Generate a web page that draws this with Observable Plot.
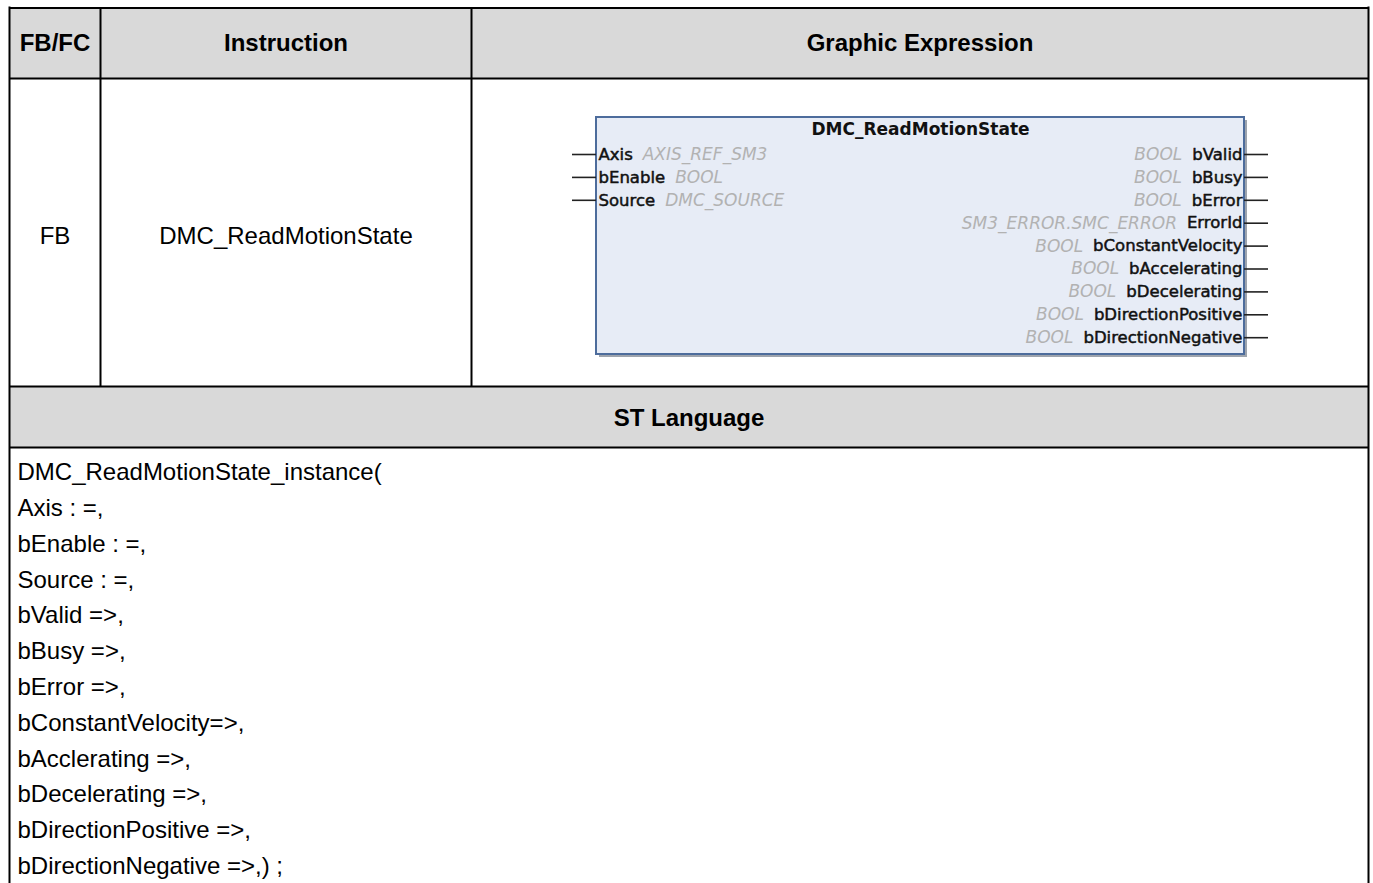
<!DOCTYPE html>
<html>
<head>
<meta charset="utf-8">
<script src="https://cdn.jsdelivr.net/npm/d3@7"></script>
<script src="https://cdn.jsdelivr.net/npm/@observablehq/plot@0.6"></script>
<style>
  html, body { margin: 0; padding: 0; background: #ffffff; }
  #chart svg { display: block; }
</style>
</head>
<body>
<div id="chart"></div>
<script>
// ---------- content ----------
const headerLabels = ["FB/FC", "Instruction", "Graphic Expression"];
const rowLabels = ["FB", "DMC_ReadMotionState"];
const sectionLabel = "ST Language";
const blockTitle = "DMC_ReadMotionState";
const inputNames = ["Axis", "bEnable", "Source"];
const inputTypes = ["AXIS_REF_SM3", "BOOL", "DMC_SOURCE"];
const outputNames = ["bValid", "bBusy", "bError", "ErrorId", "bConstantVelocity",
  "bAccelerating", "bDecelerating", "bDirectionPositive", "bDirectionNegative"];
const outputTypes = ["BOOL", "BOOL", "BOOL", "SM3_ERROR.SMC_ERROR", "BOOL",
  "BOOL", "BOOL", "BOOL", "BOOL"];
const stLines = [
  "DMC_ReadMotionState_instance(",
  "Axis : =,",
  "bEnable : =,",
  "Source : =,",
  "bValid =>,",
  "bBusy =>,",
  "bError =>,",
  "bConstantVelocity=>,",
  "bAcclerating =>,",
  "bDecelerating =>,",
  "bDirectionPositive =>,",
  "bDirectionNegative =>,) ;"
];

// ---------- layout ----------
const W = 1373, H = 883;
const colX = [9, 100, 471, 1368];          // table column edges
const rowY = [7.5, 78, 386, 447, H + 4];    // table row edges
const tableFont = "Liberation Sans, Arial, sans-serif";
const tableSize = 24;
const codeX = 17, codeY0 = 472, codeStep = 35.8;

const box = {x1: 596, x2: 1244, y1: 117, y2: 354};
const pinY0 = 154, pinStep = 22.9, pinLen = 24;
const blockFont = "DejaVu Sans, Verdana, sans-serif";
const nameSize = 16.5, typeSize = 17, titleSize = 17;
const nameColor = "#111111", typeColor = "#b2b2b2";

const ctx = document.createElement("canvas").getContext("2d");
function textW(s, font) { ctx.font = font; return ctx.measureText(s).width; }
const nameFontCss = `${nameSize}px DejaVu Sans`;

const cx = (a, b) => (a + b) / 2;

const headerFills = [
  {x1: colX[0], x2: colX[3], y1: rowY[0], y2: rowY[1]},
  {x1: colX[0], x2: colX[3], y1: rowY[2], y2: rowY[3]}
];
const vRules = [
  {x: colX[0], y1: rowY[0] - 1, y2: rowY[4]},
  {x: colX[1], y1: rowY[0], y2: rowY[2]},
  {x: colX[2], y1: rowY[0], y2: rowY[2]},
  {x: colX[3], y1: rowY[0] - 1, y2: rowY[4]}
];
const hRules = [rowY[0], rowY[1], rowY[2], rowY[3]].map(y => ({y, x1: colX[0], x2: colX[3]}));

const headerText = headerLabels.map((t, i) => ({t, x: cx(colX[i], colX[i + 1]), y: cx(rowY[0], rowY[1])}));
const rowText = rowLabels.map((t, i) => ({t, x: cx(colX[i], colX[i + 1]), y: 236}));
const sectionText = [{t: sectionLabel, x: cx(colX[0], colX[3]), y: cx(rowY[2], rowY[3]) + 1}];
const codeText = stLines.map((t, i) => ({t, x: codeX, y: codeY0 + i * codeStep}));

const inputs = inputNames.map((n, i) => {
  const y = pinY0 + i * pinStep;
  const nx = box.x1 + 2;
  return {n, type: inputTypes[i], y, nx, tx: nx + textW(n, nameFontCss) + 10};
});
const outputs = outputNames.map((n, i) => {
  const y = pinY0 + i * pinStep;
  const nx = box.x2 - 2;
  return {n, type: outputTypes[i], y, nx, tx: nx - textW(n, nameFontCss) - 10};
});

const chart = Plot.plot({
  width: W,
  height: H,
  margin: 0,
  x: {domain: [0, W], range: [0, W], axis: null},
  y: {domain: [0, H], range: [0, H], axis: null},
  style: {background: "#ffffff"},
  marks: [
    // table
    Plot.rect(headerFills, {x1: "x1", x2: "x2", y1: "y1", y2: "y2", fill: "#d9d9d9"}),
    Plot.ruleX(vRules, {x: "x", y1: "y1", y2: "y2", stroke: "#000", strokeWidth: 2}),
    Plot.ruleY(hRules, {y: "y", x1: "x1", x2: "x2", stroke: "#000", strokeWidth: 2}),
    Plot.text(headerText, {x: "x", y: "y", text: "t", fontFamily: tableFont, fontSize: tableSize, fontWeight: "bold", fill: "#000"}),
    Plot.text(rowText, {x: "x", y: "y", text: "t", fontFamily: tableFont, fontSize: tableSize, fill: "#000"}),
    Plot.text(sectionText, {x: "x", y: "y", text: "t", fontFamily: tableFont, fontSize: tableSize, fontWeight: "bold", fill: "#000"}),
    Plot.text(codeText, {x: "x", y: "y", text: "t", textAnchor: "start", fontFamily: tableFont, fontSize: tableSize, fill: "#000"}),

    // function block
    Plot.rect([box], {x1: d => d.x1 + 3, x2: d => d.x2 + 3, y1: d => d.y1 + 3, y2: d => d.y2 + 3, fill: "#9ea4ad"}),
    Plot.rect([box], {x1: "x1", x2: "x2", y1: "y1", y2: "y2", fill: "#e7ecf6", stroke: "#4d6c9c", strokeWidth: 2}),
    Plot.text([blockTitle], {x: cx(box.x1, box.x2), y: box.y1 + 12, text: d => d, fontFamily: blockFont, fontSize: titleSize, fontWeight: "bold", fill: "#111"}),
    Plot.ruleY(inputs, {y: "y", x1: box.x1 - pinLen, x2: box.x1, stroke: "#222", strokeWidth: 1.6}),
    Plot.ruleY(outputs, {y: "y", x1: box.x2, x2: box.x2 + pinLen, stroke: "#222", strokeWidth: 1.6}),
    Plot.text(inputs, {x: "nx", y: "y", text: "n", textAnchor: "start", fontFamily: blockFont, fontSize: nameSize, fill: nameColor, stroke: nameColor, strokeWidth: 0.5}),
    Plot.text(inputs, {x: "tx", y: "y", text: "type", textAnchor: "start", fontFamily: blockFont, fontSize: typeSize, fontStyle: "italic", fill: typeColor}),
    Plot.text(outputs, {x: "nx", y: "y", text: "n", textAnchor: "end", fontFamily: blockFont, fontSize: nameSize, fill: nameColor, stroke: nameColor, strokeWidth: 0.5}),
    Plot.text(outputs, {x: "tx", y: "y", text: "type", textAnchor: "end", fontFamily: blockFont, fontSize: typeSize, fontStyle: "italic", fill: typeColor})
  ]
});
document.getElementById("chart").appendChild(chart);
</script>
</body>
</html>
